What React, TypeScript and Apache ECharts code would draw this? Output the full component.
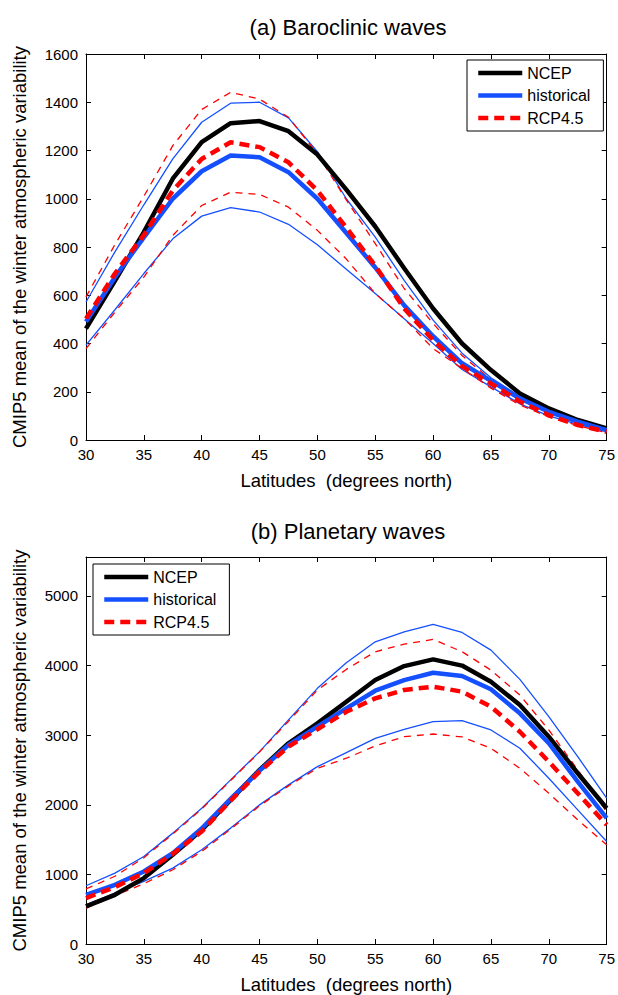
import React, { useEffect, useRef } from 'react';
import * as echarts from 'echarts';

const latitudes = [30, 32.5, 35, 37.5, 40, 42.5, 45, 47.5, 50, 52.5, 55, 57.5, 60, 62.5, 65, 67.5, 70, 72.5, 75];

// (a) Baroclinic waves
const baroNCEP = [462, 660, 862, 1083, 1235, 1313, 1322, 1280, 1183, 1038, 885, 712, 545, 400, 290, 193, 131, 83, 48];
const baroHist = [490, 675, 840, 1000, 1114, 1179, 1172, 1110, 1000, 858, 715, 558, 430, 318, 245, 172, 117, 76, 41];
const baroRCP = [503, 690, 850, 1034, 1165, 1234, 1214, 1151, 1034, 880, 722, 545, 414, 305, 234, 159, 103, 62, 34];
const baroHistUpper = [572, 780, 975, 1165, 1317, 1396, 1400, 1335, 1195, 1000, 841, 662, 497, 360, 258, 180, 122, 80, 45];
const baroHistLower = [393, 540, 690, 834, 928, 963, 945, 894, 809, 708, 607, 503, 400, 292, 220, 150, 100, 65, 35];
const baroRCPUpper = [593, 810, 1010, 1220, 1370, 1441, 1413, 1338, 1186, 995, 814, 628, 483, 350, 250, 175, 118, 78, 43];
const baroRCPLower = [379, 530, 675, 848, 972, 1027, 1018, 965, 869, 750, 607, 503, 379, 297, 215, 145, 95, 60, 30];

// (b) Planetary waves
const planNCEP = [540, 707, 947, 1282, 1640, 2071, 2501, 2884, 3170, 3481, 3792, 3993, 4089, 4000, 3768, 3434, 2979, 2453, 1951];
const planHist = [707, 851, 1042, 1306, 1660, 2085, 2490, 2860, 3122, 3386, 3639, 3792, 3897, 3850, 3659, 3314, 2884, 2333, 1808];
const planRCP = [660, 818, 1019, 1296, 1616, 2061, 2477, 2836, 3085, 3337, 3529, 3649, 3697, 3625, 3409, 3050, 2620, 2166, 1712];
const planHistUpper = [837, 1019, 1257, 1593, 1951, 2358, 2764, 3220, 3673, 4040, 4342, 4485, 4591, 4476, 4222, 3802, 3266, 2692, 2095];
const planHistLower = [564, 732, 899, 1090, 1353, 1665, 1999, 2286, 2548, 2749, 2955, 3085, 3194, 3209, 3075, 2812, 2382, 1927, 1472];
const planRCPUpper = [791, 973, 1240, 1580, 1940, 2350, 2760, 3200, 3650, 3945, 4198, 4308, 4376, 4200, 3935, 3577, 3075, 2501, 1903];
const planRCPLower = [516, 697, 866, 1067, 1330, 1651, 1985, 2272, 2525, 2669, 2845, 2979, 3017, 2975, 2812, 2525, 2166, 1783, 1425];

const legendNames = ['NCEP', 'historical', 'RCP4.5'];
const titles = ['(a) Baroclinic waves', '(b) Planetary waves'];
const xName = 'Latitudes  (degrees north)';
const yName = 'CMIP5 mean of the winter atmospheric variability';

const FONT = '"Liberation Sans", Arial, Helvetica, sans-serif';
const BLUE = '#1450ff';
const RED = '#ff0000';

function pairs(vals: number[]) {
  return latitudes.map((x, i) => [x, vals[i]]);
}

export default function App() {
  const ref = useRef<HTMLDivElement>(null);
  useEffect(() => {
    if (!ref.current) return;
    const chart = echarts.init(ref.current, undefined, { renderer: 'svg' });

    const grids = [
      { left: 86, right: 9, top: 54, height: 386 },
      { left: 86, right: 9, top: 557, height: 387 },
    ];

    const axisLineStyle = { lineStyle: { color: '#000', width: 1 } };
    const tickStyle = { show: true, inside: true, length: 5, lineStyle: { color: '#000', width: 1 } };
    const labelStyle = { color: '#000', fontSize: 15, fontFamily: FONT, formatter: (v: number) => String(v) };
    const nameStyle = { color: '#000', fontSize: 18.5, fontFamily: FONT };

    const xAxis: any[] = [];
    const yAxis: any[] = [];
    const yMax = [1600, 5560];
    const yInt = [200, 1000];
    [0, 1].forEach((g) => {
      xAxis.push({
        type: 'value', gridIndex: g, position: 'bottom', min: 30, max: 75, interval: 5,
        axisLine: { show: true, onZero: false, ...axisLineStyle }, axisTick: tickStyle,
        axisLabel: { ...labelStyle, margin: 7 }, splitLine: { show: false },
        name: xName, nameLocation: 'middle', nameGap: 31, nameTextStyle: nameStyle,
      });
      xAxis.push({
        type: 'value', gridIndex: g, position: 'top', min: 30, max: 75, interval: 5,
        axisLine: { show: true, onZero: false, ...axisLineStyle }, axisTick: tickStyle,
        axisLabel: { show: false }, splitLine: { show: false },
      });
      yAxis.push({
        type: 'value', gridIndex: g, position: 'left', min: 0, max: yMax[g], interval: yInt[g],
        axisLine: { show: true, onZero: false, ...axisLineStyle }, axisTick: tickStyle,
        axisLabel: { ...labelStyle, margin: 8, showMaxLabel: g === 0 },
        splitLine: { show: false },
        name: yName, nameLocation: 'middle', nameGap: 57, nameTextStyle: nameStyle,
      });
      yAxis.push({
        type: 'value', gridIndex: g, position: 'right', min: 0, max: yMax[g], interval: yInt[g],
        axisLine: { show: true, onZero: false, ...axisLineStyle }, axisTick: tickStyle,
        axisLabel: { show: false }, splitLine: { show: false },
      });
    });

    const datasets = [
      { ncep: baroNCEP, hist: baroHist, rcp: baroRCP, hu: baroHistUpper, hl: baroHistLower, ru: baroRCPUpper, rl: baroRCPLower },
      { ncep: planNCEP, hist: planHist, rcp: planRCP, hu: planHistUpper, hl: planHistLower, ru: planRCPUpper, rl: planRCPLower },
    ];

    const series: any[] = [];
    datasets.forEach((d, g) => {
      const base = { type: 'line', xAxisIndex: g * 2, yAxisIndex: g * 2, symbol: 'none', silent: true };
      series.push({ ...base, name: 'historical spread', data: pairs(d.hu), lineStyle: { color: BLUE, width: 1.3 }, z: 2 });
      series.push({ ...base, name: 'historical spread', data: pairs(d.hl), lineStyle: { color: BLUE, width: 1.3 }, z: 2 });
      series.push({ ...base, name: 'RCP4.5 spread', data: pairs(d.ru), lineStyle: { color: RED, width: 1.3, type: [7, 6] }, z: 3 });
      series.push({ ...base, name: 'RCP4.5 spread', data: pairs(d.rl), lineStyle: { color: RED, width: 1.3, type: [7, 6] }, z: 3 });
      series.push({ ...base, name: 'NCEP', data: pairs(d.ncep), color: '#000', lineStyle: { color: '#000', width: 4.5 }, z: 4 });
      series.push({ ...base, name: 'historical', data: pairs(d.hist), color: BLUE, lineStyle: { color: BLUE, width: 4.5 }, z: 5 });
      series.push({ ...base, name: 'RCP4.5', data: pairs(d.rcp), color: RED, lineStyle: { color: RED, width: 4.5, type: [10, 6] }, z: 6 });
    });

    const legendCommon = {
      data: legendNames, orient: 'vertical', itemWidth: 44, itemHeight: 16, itemGap: 6.5,
      padding: [5, 13, 5, 9], borderColor: '#000', borderWidth: 1, backgroundColor: '#fff',
      borderRadius: 0, selectedMode: false,
      lineStyle: { width: 4.5 },
      itemStyle: { color: 'rgba(0,0,0,0)', borderWidth: 0, opacity: 0 },
      textStyle: { color: '#000', fontSize: 16, fontFamily: FONT, lineHeight: 16 },
    };

    chart.setOption({
      animation: false,
      backgroundColor: '#fff',
      grid: grids,
      xAxis,
      yAxis,
      series,
      legend: [
        { ...legendCommon, left: 467, top: 60 },
        { ...legendCommon, left: 93, top: 564 },
      ],
      graphic: [
        { type: 'text', x: 348, y: 27.5, style: { text: titles[0], fontSize: 22, fontFamily: FONT, fill: '#000', align: 'center', verticalAlign: 'middle' } },
        { type: 'text', x: 348, y: 531, style: { text: titles[1], fontSize: 22, fontFamily: FONT, fill: '#000', align: 'center', verticalAlign: 'middle' } },
      ],
    });
    return () => chart.dispose();
  }, []);
  return <div ref={ref} style={{ width: 618, height: 995, position: 'absolute', left: 0, top: 0 }} />;
}
